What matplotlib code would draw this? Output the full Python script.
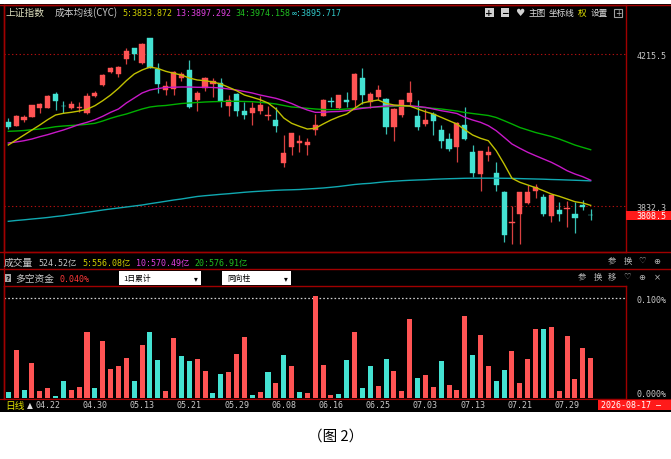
import numpy as np
import matplotlib
matplotlib.use('Agg')
import matplotlib.pyplot as plt
from matplotlib.patches import Rectangle
from matplotlib.lines import Line2D

plt.rcParams['font.family'] = ['DejaVu Sans Mono', 'Noto Sans CJK SC', 'DejaVu Sans']
CJK = ['Noto Sans CJK SC', 'DejaVu Sans']
MONO = ['DejaVu Sans Mono', 'Noto Sans CJK SC', 'DejaVu Sans']
SYM = ['DejaVu Sans', 'Noto Sans CJK SC']

# ---------------- data ----------------
tick_pos = [5, 11, 17, 23, 29, 35, 41, 47, 53, 59, 65, 71]
tick_labels = ['04.22', '04.30', '05.13', '05.21', '05.29', '06.08',
               '06.16', '06.25', '07.03', '07.13', '07.21', '07.29']

opens = [4043.3, 4034.8, 4049.1, 4057.4, 4079.4, 4079.4, 4113.9, 4085.2, 4079.4, 4079.4,
         4066.8, 4109.6, 4138.1, 4170.9, 4165.8, 4202.1, 4229.9, 4193.6, 4255.8, 4176.9,
         4125.5, 4127.3, 4155.0, 4175.9, 4100.3, 4130.6, 4139.9, 4142.4, 4085.2, 4113.9,
         4071.1, 4066.0, 4072.6, 4060.0, 4049.1, 3941.5, 3981.8, 3990.4, 3986.1, 4023.9,
         4060.0, 4097.0, 4078.6, 4098.8, 4098.8, 4155.0, 4093.7, 4107.9, 4102.1, 4032.2,
         4062.5, 4095.3, 4059.2, 4038.3, 4063.5, 4024.7, 4002.0, 3981.8, 4035.8, 3969.7,
         3913.0, 3960.9, 3915.0, 3866.9, 3788.7, 3810.9, 3840.6, 3870.1, 3854.3, 3807.9,
         3822.7, 3823.5, 3810.9, 3834.8, 3810.4]
closes = [4031.5, 4060.0, 4056.7, 4086.2, 4089.5, 4110.4, 4097.8, 4083.7, 4089.5, 4082.7,
          4110.4, 4116.4, 4162.6, 4181.0, 4182.0, 4223.8, 4215.5, 4241.5, 4181.0, 4139.9,
          4134.8, 4170.9, 4165.8, 4081.1, 4116.4, 4155.0, 4148.2, 4097.8, 4100.3, 4072.6,
          4062.5, 4080.1, 4087.7, 4062.5, 4033.2, 3965.2, 4015.6, 3996.9, 3992.9, 4036.5,
          4100.3, 4093.7, 4112.1, 4095.3, 4165.8, 4112.1, 4114.7, 4124.7, 4032.2, 4076.9,
          4098.8, 4116.4, 4032.2, 4049.1, 4045.8, 3996.2, 3975.3, 4041.6, 4000.0, 3916.3,
          3970.2, 3967.7, 3885.8, 3759.2, 3792.7, 3866.9, 3868.4, 3879.5, 3812.1, 3859.3,
          3812.1, 3828.5, 3802.6, 3829.3, 3808.5]
highs = [4054.9, 4061.7, 4062.5, 4087.7, 4092.0, 4112.1, 4120.5, 4097.0, 4097.8, 4095.3,
         4116.4, 4122.2, 4165.1, 4182.7, 4185.3, 4229.9, 4230.6, 4243.2, 4256.6, 4193.6,
         4148.2, 4171.9, 4169.4, 4200.4, 4123.0, 4156.8, 4154.2, 4155.0, 4112.9, 4117.2,
         4093.7, 4093.7, 4110.4, 4083.7, 4081.1, 4011.3, 4016.4, 4010.5, 4003.0, 4064.2,
         4102.1, 4107.9, 4112.9, 4120.5, 4167.6, 4179.5, 4120.5, 4137.4, 4103.8, 4078.6,
         4100.3, 4147.4, 4098.8, 4076.9, 4070.0, 4036.5, 4016.4, 4043.3, 4081.9, 3986.1,
         3971.0, 3983.6, 3942.5, 3870.9, 3832.3, 3868.4, 3886.5, 3887.3, 3862.6, 3860.5,
         3842.4, 3845.7, 3841.6, 3847.4, 3826.0]
lows = [4026.4, 4033.2, 4043.3, 4055.9, 4066.0, 4078.6, 4073.6, 4066.0, 4076.9, 4070.0,
        4065.0, 4106.4, 4134.1, 4166.9, 4157.5, 4189.5, 4201.1, 4191.1, 4180.2, 4118.4,
        4112.9, 4112.9, 4148.2, 4078.6, 4072.6, 4123.0, 4107.9, 4081.1, 4060.0, 4060.0,
        4050.9, 4037.3, 4064.2, 4049.1, 4019.6, 3931.4, 3961.6, 3967.7, 3961.6, 4012.1,
        4058.5, 4082.7, 4076.9, 4081.1, 4081.1, 4088.7, 4079.4, 4099.5, 4013.8, 3996.9,
        4057.4, 4086.9, 4024.7, 4033.2, 4011.3, 3977.8, 3971.7, 3942.5, 3998.7, 3904.7,
        3870.9, 3947.0, 3870.9, 3740.8, 3735.3, 3736.5, 3838.6, 3852.5, 3807.9, 3791.2,
        3795.3, 3780.6, 3763.5, 3821.5, 3796.5]

cyc5 = [3986.1, 3998.7, 4011.3, 4023.9, 4036.5, 4049.9, 4061.7, 4066.0, 4068.5, 4071.8,
        4076.1, 4085.2, 4097.8, 4112.1, 4129.0, 4148.2, 4165.1, 4175.2, 4182.7, 4179.0,
        4171.9, 4166.9, 4162.6, 4155.0, 4150.0, 4148.2, 4144.9, 4139.9, 4131.6, 4123.0,
        4112.1, 4106.4, 4100.3, 4092.0, 4076.9, 4054.2, 4040.8, 4033.2, 4026.4, 4028.2,
        4039.0, 4049.1, 4057.4, 4064.2, 4078.6, 4092.0, 4096.3, 4099.5, 4091.0, 4087.0,
        4085.5, 4084.5, 4076.9, 4070.0, 4064.2, 4055.9, 4047.4, 4039.0, 4024.7, 4011.3,
        4003.0, 3996.9, 3971.7, 3938.2, 3902.2, 3892.1, 3885.3, 3878.5, 3870.9, 3862.6,
        3856.8, 3850.0, 3843.2, 3839.9, 3833.9]
cyc13 = [3991.1, 3993.7, 3996.9, 4001.2, 4007.0, 4012.1, 4018.1, 4023.9, 4030.7, 4037.8,
         4043.3, 4049.9, 4058.5, 4068.5, 4076.9, 4092.0, 4104.6, 4117.2, 4124.7, 4128.5,
         4131.1, 4131.8, 4132.3, 4132.3, 4131.6, 4131.6, 4131.1, 4129.8, 4127.3, 4124.7,
         4121.0, 4117.2, 4112.1, 4107.9, 4103.8, 4097.8, 4090.7, 4081.9, 4074.3, 4068.5,
         4068.5, 4070.0, 4070.6, 4072.6, 4075.6, 4078.6, 4080.6, 4082.7, 4084.4, 4085.2,
         4085.7, 4085.2, 4083.2, 4081.1, 4076.9, 4072.6, 4069.3, 4065.5, 4055.9, 4049.1,
         4043.3, 4034.8, 4022.1, 4005.5, 3988.6, 3977.8, 3967.7, 3959.1, 3950.8, 3942.5,
         3932.4, 3921.3, 3913.0, 3906.2, 3897.3]
cyc34 = [4020.6, 4021.4, 4022.6, 4024.7, 4026.4, 4029.0, 4032.2, 4034.0, 4035.3, 4036.5,
         4038.3, 4040.8, 4046.6, 4053.4, 4059.2, 4064.2, 4070.6, 4076.9, 4081.9, 4084.4,
         4085.7, 4088.2, 4090.7, 4092.0, 4093.2, 4094.5, 4095.3, 4095.8, 4096.3, 4096.3,
         4095.8, 4095.3, 4093.7, 4092.0, 4089.5, 4085.7, 4081.9, 4080.6, 4078.6, 4076.9,
         4075.6, 4075.1, 4075.6, 4076.9, 4078.6, 4080.1, 4081.1, 4081.9, 4082.7, 4083.7,
         4084.4, 4083.7, 4081.9, 4080.1, 4078.6, 4076.9, 4074.3, 4071.8, 4068.0, 4065.5,
         4063.0, 4060.5, 4055.4, 4047.4, 4039.0, 4030.2, 4023.9, 4017.6, 4012.6, 4007.5,
         4001.2, 3993.7, 3986.0, 3980.0, 3974.2]
cyc_inf = [3793.7, 3795.8, 3797.5, 3799.5, 3801.3, 3803.3, 3805.8, 3807.9, 3810.9, 3813.4,
           3816.4, 3819.2, 3822.2, 3824.8, 3827.3, 3829.8, 3832.3, 3834.8, 3838.1, 3841.1,
           3844.2, 3847.4, 3850.0, 3853.2, 3856.3, 3858.3, 3860.0, 3861.8, 3863.3, 3865.1,
           3866.9, 3868.4, 3869.6, 3870.9, 3871.9, 3872.7, 3873.2, 3873.9, 3875.2, 3876.4,
           3877.7, 3879.5, 3881.5, 3884.0, 3886.5, 3888.3, 3889.5, 3891.6, 3893.6, 3894.8,
           3896.1, 3897.1, 3897.9, 3898.6, 3899.6, 3900.4, 3901.1, 3901.6, 3902.2, 3902.4,
           3902.5, 3902.5, 3902.4, 3902.2, 3902.0, 3901.4, 3900.9, 3900.4, 3899.9, 3899.1,
           3898.6, 3897.9, 3897.2, 3896.5, 3895.7]

# 多空资金 (%), sign = colour direction (negative drawn cyan)
fund = [-0.0058, 0.0478, -0.0071, 0.0343, 0.0064, 0.0098, -0.0013, -0.0169, 0.0078, 0.0104,
        0.0664, -0.0091, 0.0566, 0.0283, 0.0313, 0.0394, -0.0169, 0.0525, -0.0657, -0.0374,
        0.0064, 0.0603, -0.0414, -0.0367, 0.0387, 0.0270, -0.0043, -0.0242, 0.0253, 0.0437,
        0.0609, -0.0023, 0.0051, -0.0253, 0.0148, -0.0431, 0.0313, -0.0051, 0.0043, 0.1023,
        0.0326, 0.0023, -0.0033, -0.0381, 0.0664, -0.0094, -0.0313, 0.0111, -0.0387, 0.0263,
        0.0064, 0.0791, -0.0195, 0.0229, 0.0104, -0.0367, 0.0131, 0.0074, 0.0825, -0.0431,
        0.0629, 0.0320, -0.0162, -0.0273, 0.0472, 0.0148, 0.0387, 0.0694, -0.0687, 0.0707,
        0.0061, 0.0619, 0.0189, 0.0498, 0.0394]

price_levels = [4215.5, 3832.3]
last_price = 3808.5
fund_levels = [0.0, 0.1]

n = len(opens)
for arr in (closes, highs, lows, cyc5, cyc13, cyc34, cyc_inf, fund):
    assert len(arr) == n, len(arr)

# ---------------- style ----------------
RED = '#ff5454'
CYAN = '#44e2d2'
RED_W = '#d84040'
CYAN_W = '#38c0b4'
FRAME = '#a00000'
GREY = '#c8c8c8'
C5, C13, C34, CINF = '#c0c000', '#c818c8', '#00b000', '#10a8b0'

W, H = 671, 460
fig = plt.figure(figsize=(W / 100, H / 100), dpi=100)
fig.patch.set_facecolor('white')


def rect_px(x0, y0, x1, y1):
    return [x0 / W, 1 - y1 / H, (x1 - x0) / W, (y1 - y0) / H]


def T(x, y, s, color, size=6, family=MONO, ha='left', va='center', **kw):
    fig.text(x / W, 1 - y / H, s, color=color, fontsize=size, family=family,
             ha=ha, va=va, zorder=7, **kw)


def FR(x0, y0, x1, y1, fc, ec='none', lw=0, z=5):
    fig.add_artist(Rectangle((x0 / W, 1 - y1 / H), (x1 - x0) / W, (y1 - y0) / H,
                             transform=fig.transFigure, fc=fc, ec=ec, lw=lw, zorder=z))


def FL(x0, y0, x1, y1, color=FRAME, lw=1.0, z=5):
    fig.add_artist(Line2D([x0 / W, x1 / W], [1 - y0 / H, 1 - y1 / H],
                          transform=fig.transFigure, color=color, lw=lw, zorder=z))


# black terminal background
FR(0, 5, 671, 413, 'black', z=-5)

X0, DX = 8.3, 7.87  # pixel of first bar, bar spacing


def xl(p0, p1):
    return ((p0 - X0) / DX, (p1 - X0) / DX)


x = np.arange(n)
o = np.array(opens); c = np.array(closes); h = np.array(highs); l = np.array(lows)
up = c >= o

# ---------------- main K-line axes ----------------
ax = fig.add_axes(rect_px(3.5, 5.7, 626, 252.7))
ax.set_facecolor('none')
ax.set_xlim(*xl(3.5, 626))
ax.set_ylim(3717.1, 4339.8)

for lv in price_levels:
    ax.axhline(lv, color='#b01010', lw=0.8, linestyle=(0, (1.2, 2.2)), zorder=1)

ax.vlines(x, l, h, colors=np.where(up, RED_W, CYAN_W), linewidth=0.9, zorder=3)
body_h = np.maximum(np.abs(c - o), 1.2)
ax.bar(x, body_h, bottom=np.minimum(o, c), width=0.66,
       color=np.where(up, RED, CYAN), edgecolor=np.where(up, RED, CYAN),
       linewidth=0.3, zorder=4)

ax.plot(x, cyc_inf, color=CINF, lw=1.0, zorder=5)
ax.plot(x, cyc34, color=C34, lw=1.0, zorder=5)
ax.plot(x, cyc13, color=C13, lw=1.0, zorder=5)
ax.plot(x, cyc5, color=C5, lw=1.0, zorder=6)

ax.set_xticks([])
ax.yaxis.tick_right()
ax.set_yticks(price_levels)
ax.set_yticklabels([f'{v:.1f}' for v in price_levels])
ax.tick_params(axis='y', length=0, pad=7.7, labelsize=6, labelcolor=GREY)
for s in ax.spines.values():
    s.set_color(FRAME)
    s.set_linewidth(1.0)

# ---------------- 多空资金 axes ----------------
ax2 = fig.add_axes(rect_px(3.5, 286.7, 626, 400))
ax2.set_facecolor('none')
ax2.set_xlim(*xl(3.5, 626))
ax2.set_ylim(-0.0015, 0.1127)
fv = np.array(fund)
ax2.bar(x, np.abs(fv), width=0.64, color=np.where(fv >= 0, RED, CYAN), zorder=3)
ax2.axhline(fund_levels[1], color='#d0d0d0', lw=0.9, linestyle=(0, (1.3, 1.7)), zorder=2)
ax2.set_xticks([])
ax2.yaxis.tick_right()
ax2.set_yticks(fund_levels)
ax2.set_yticklabels([f'{v:.3f}%' for v in fund_levels])
ax2.tick_params(axis='y', length=0, pad=7.7, labelsize=6, labelcolor=GREY)
for tk in ax2.yaxis.get_major_ticks()[:1]:
    tk.label2.set_verticalalignment('bottom')
for s in ax2.spines.values():
    s.set_color(FRAME)
    s.set_linewidth(1.0)

# ---------------- date row ----------------
ax3 = fig.add_axes(rect_px(0, 400, 671, 413), zorder=2.5)
ax3.set_facecolor('black')
ax3.set_xlim(*xl(0, 671))
ax3.set_ylim(0, 1)
ax3.set_xticks([]); ax3.set_yticks([])
for k, s in ax3.spines.items():
    s.set_visible(k == 'top')
    s.set_color(FRAME)
for i, lab in zip(tick_pos, tick_labels):
    ax3.text(i, 0.55, lab, ha='center', va='center', color=GREY, fontsize=6, family=MONO)

# ---------------- frame lines ----------------
FL(0, 5.7, 671, 5.7)
FL(0, 252.7, 671, 252.7)
FL(0, 270.2, 671, 270.2)
FL(3.5, 5.7, 3.5, 400)

# ---------------- header texts ----------------
T(6, 13, '上证指数', '#dcdcbc', 7, CJK)
T(55, 13, '成本均线(CYC)', GREY, 7, CJK)
T(122, 13, '5:3833.872', '#d0d000', 6)
T(176, 13, '13:3897.292', '#e040e0', 6)
T(235, 13, '34:3974.158', '#20c020', 6)
T(292, 13, '∞:3895.717', '#30c8c8', 6)

FR(485, 9.3, 493.5, 17.5, '#d0d0d0', z=6)
T(489.3, 13.2, '+', 'black', 6.5, SYM, ha='center', weight='bold')
FR(500.5, 9.3, 509, 17.5, '#d0d0d0', z=6)
T(504.8, 13.2, '−', 'black', 6.5, SYM, ha='center', weight='bold')
T(519.5, 13.3, '♥', '#d0d0d0', 7.5, SYM, ha='center')
T(529, 13.3, '主图', '#e0e0e0', 6.2, CJK)
T(549, 13.3, '坐标线', '#e0e0e0', 6.2, CJK)
T(578, 13.3, '权', '#e8e800', 6.2, CJK)
T(591, 13.3, '设置', '#e0e0e0', 6.2, CJK)
FR(614, 9.5, 622, 17.5, 'none', ec='#a0a0a0', lw=0.8, z=6)
T(618, 13.3, '+', '#c0c0c0', 5.5, SYM, ha='center')

# last price box
yd = ax.transData.transform((0, last_price))[1]
ypx = H - yd
FR(626, ypx - 4.8, 671, ypx + 4.8, '#ff1a1a', z=6)
T(636.7, ypx, f'{last_price:.1f}', 'white', 6)

# volume row
T(4, 263.3, '成交量', GREY, 7, CJK)
T(38, 263.3, '524.52亿', GREY, 6)
T(82, 263.3, '5:556.08亿', '#d0d000', 6)
T(136, 263.3, '10:570.49亿', '#e040e0', 6)
T(194, 263.3, '20:576.91亿', '#20c020', 6)
for xx, s in zip([608, 624, 638, 653], ['参', '换', '♡', '⊕']):
    T(xx, 261, s, '#b8b8b8', 6, CJK if s in '参换' else SYM)

# 多空资金 row
FR(5, 274.5, 11, 283, '#a8a8a8', z=6)
T(8, 278.8, '?', 'black', 5, SYM, ha='center', weight='bold')
T(15, 279, '多空资金', GREY, 7, CJK)
T(60, 279, '0.040%', '#ff3838', 6)
FR(119, 271.5, 201, 286, 'white', z=6)
T(123, 278.8, '1日累计', 'black', 5.6, CJK)
T(196, 278.5, '▾', 'black', 5.5, SYM, ha='center')
FR(222, 271.5, 291, 286, 'white', z=6)
T(227, 278.8, '同向柱', 'black', 5.6, CJK)
T(285.5, 278.5, '▾', 'black', 5.5, SYM, ha='center')
for xx, s in zip([578, 594, 608, 623, 638, 654], ['参', '换', '移', '♡', '⊕', '×']):
    T(xx, 277.5, s, '#b8b8b8', 6, CJK if s in '参换移' else SYM)

# date row texts
T(5, 406, '日线', '#e0e000', 7, CJK)
T(27, 405.5, '▲', '#e0e0e0', 5.5, SYM)
FR(598, 400.5, 671, 411, '#ff1a1a', z=6)
T(601, 405.8, '2026-08-17 —', 'white', 6)

# caption
T(336, 437, '（图 2）', 'black', 10.5, CJK, ha='center')

fig.savefig('out.png', dpi=100, facecolor='white')
